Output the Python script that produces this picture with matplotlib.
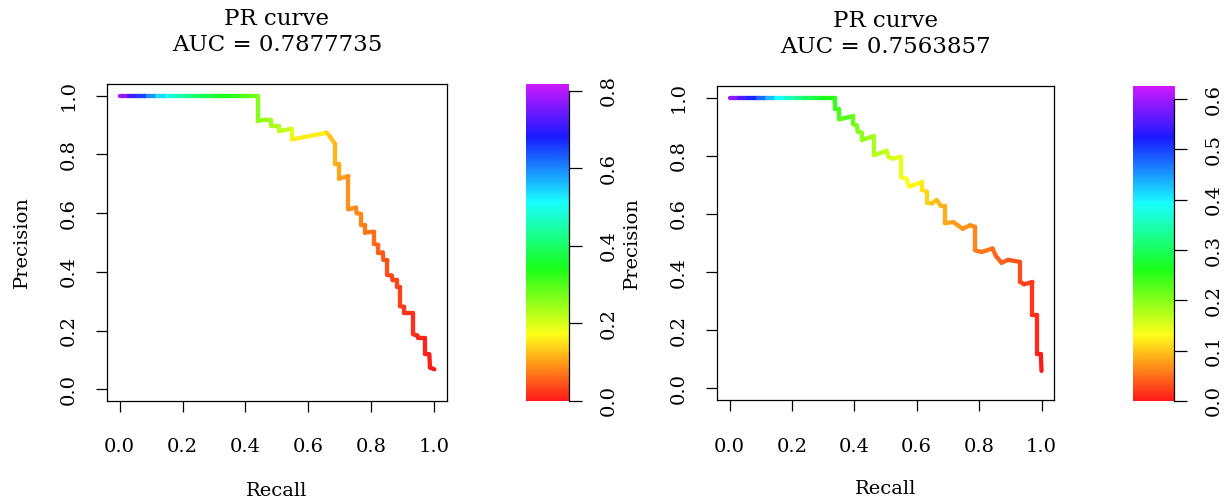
import numpy as np
import matplotlib
matplotlib.use("Agg")
import matplotlib.pyplot as plt
from matplotlib.collections import LineCollection
from matplotlib.colors import ListedColormap, Normalize, hsv_to_rgb

plt.rcParams['font.family'] = ['DejaVu Serif']

# left curve: recall, precision, threshold score at each vertex
recall_a = [0.000, 0.030, 0.060, 0.090, 0.120, 0.150, 0.180, 0.210, 0.240, 0.270,
            0.300, 0.330, 0.360, 0.390, 0.420, 0.439, 0.439, 0.462, 0.480, 0.480,
            0.507, 0.507, 0.547, 0.547, 0.658, 0.669, 0.685, 0.685, 0.698, 0.698,
            0.727, 0.727, 0.751, 0.753, 0.767, 0.767, 0.780, 0.780, 0.808, 0.808,
            0.822, 0.822, 0.836, 0.838, 0.851, 0.851, 0.865, 0.867, 0.880, 0.880,
            0.891, 0.891, 0.904, 0.904, 0.933, 0.933, 0.946, 0.949, 0.970, 0.970,
            0.984, 0.986, 1.000]
precision_a = [1.000, 1.000, 1.000, 1.000, 1.000, 1.000, 1.000, 1.000, 1.000, 1.000,
               1.000, 1.000, 1.000, 1.000, 1.000, 1.000, 0.914, 0.919, 0.919, 0.897,
               0.897, 0.879, 0.888, 0.851, 0.874, 0.860, 0.835, 0.769, 0.769, 0.718,
               0.726, 0.613, 0.619, 0.600, 0.597, 0.560, 0.558, 0.534, 0.537, 0.495,
               0.492, 0.464, 0.466, 0.441, 0.439, 0.390, 0.387, 0.371, 0.371, 0.348,
               0.348, 0.283, 0.281, 0.260, 0.260, 0.187, 0.183, 0.175, 0.175, 0.119,
               0.119, 0.074, 0.068]
score_a = [0.80, 0.75, 0.68, 0.62, 0.56, 0.51, 0.47, 0.44, 0.41, 0.38,
           0.36, 0.34, 0.33, 0.31, 0.29, 0.27, 0.26, 0.25, 0.245, 0.24,
           0.23, 0.225, 0.21, 0.175, 0.14, 0.13, 0.12, 0.115, 0.11, 0.105,
           0.095, 0.088, 0.085, 0.083, 0.081, 0.079, 0.075, 0.072, 0.065, 0.06,
           0.057, 0.054, 0.05, 0.047, 0.044, 0.041, 0.038, 0.036, 0.034, 0.032,
           0.03, 0.028, 0.025, 0.023, 0.02, 0.017, 0.015, 0.013, 0.01, 0.008,
           0.005, 0.003, 0.0]
auc_a = "0.7877735"
score_max_a = 0.818
bar_ticks_a = [0.0, 0.2, 0.4, 0.6, 0.8]

# right curve
recall_b = [0.000, 0.030, 0.060, 0.090, 0.120, 0.150, 0.180, 0.210, 0.240, 0.270,
            0.300, 0.338, 0.338, 0.352, 0.352, 0.397, 0.397, 0.408, 0.411, 0.424,
            0.424, 0.463, 0.463, 0.504, 0.509, 0.523, 0.549, 0.549, 0.566, 0.576,
            0.618, 0.618, 0.634, 0.634, 0.648, 0.664, 0.678, 0.690, 0.690, 0.717,
            0.728, 0.747, 0.771, 0.787, 0.787, 0.808, 0.843, 0.854, 0.872, 0.893,
            0.931, 0.931, 0.944, 0.971, 0.971, 0.984, 0.984, 0.998, 1.000]
precision_b = [1.000, 1.000, 1.000, 1.000, 1.000, 1.000, 1.000, 1.000, 1.000, 1.000,
               1.000, 1.000, 0.962, 0.962, 0.925, 0.937, 0.908, 0.905, 0.883, 0.880,
               0.854, 0.868, 0.802, 0.817, 0.797, 0.790, 0.797, 0.728, 0.721, 0.694,
               0.710, 0.682, 0.675, 0.639, 0.636, 0.648, 0.627, 0.627, 0.568, 0.572,
               0.564, 0.549, 0.561, 0.556, 0.475, 0.469, 0.481, 0.455, 0.432, 0.442,
               0.435, 0.367, 0.358, 0.366, 0.251, 0.251, 0.117, 0.117, 0.060]
score_b = [0.60, 0.57, 0.53, 0.50, 0.45, 0.41, 0.37, 0.34, 0.31, 0.29,
           0.27, 0.25, 0.24, 0.235, 0.23, 0.22, 0.215, 0.21, 0.205, 0.20,
           0.195, 0.185, 0.175, 0.165, 0.16, 0.155, 0.15, 0.14, 0.135, 0.13,
           0.12, 0.115, 0.11, 0.105, 0.10, 0.095, 0.09, 0.087, 0.083, 0.078,
           0.075, 0.072, 0.068, 0.065, 0.06, 0.055, 0.05, 0.046, 0.042, 0.038,
           0.033, 0.028, 0.025, 0.02, 0.015, 0.012, 0.008, 0.004, 0.0]
auc_b = "0.7563857"
score_max_b = 0.626
bar_ticks_b = [0.0, 0.1, 0.2, 0.3, 0.4, 0.5, 0.6]

axis_ticks = [0.0, 0.2, 0.4, 0.6, 0.8, 1.0]

# rainbow from red (hue 0) up to violet (hue 0.8), slightly softened
hues = np.linspace(0, 0.8, 256)
rgb = hsv_to_rgb(np.column_stack([hues, np.full(256, 0.9), np.ones(256)]))
cmap = ListedColormap(rgb)


def draw_panel(fig, rect, cbar_rect, recall, precision, score, auc, smax, bticks):
    norm = Normalize(0, smax)
    ax = fig.add_axes(rect)
    pts = np.column_stack([recall, precision])
    segs = np.stack([pts[:-1], pts[1:]], axis=1)
    s = np.asarray(score)
    lc = LineCollection(segs, cmap=cmap, norm=norm, linewidths=3.1, capstyle='round')
    lc.set_array((s[:-1] + s[1:]) / 2)
    ax.add_collection(lc)
    ax.set_xlim(-0.04, 1.04)
    ax.set_ylim(-0.04, 1.04)
    ax.set_xticks(axis_ticks)
    ax.set_yticks(axis_ticks)
    ax.set_xticklabels(["%.1f" % t for t in axis_ticks])
    ax.set_yticklabels(["%.1f" % t for t in axis_ticks], rotation=90, va='center')
    ax.tick_params(direction='out', length=8, width=0.9, labelsize=14, pad=19)
    ax.tick_params(axis='y', pad=13)
    for sp in ax.spines.values():
        sp.set_linewidth(0.9)
    ax.set_xlabel("Recall", fontsize=14, labelpad=18)
    ax.set_ylabel("Precision", fontsize=14, labelpad=21)
    ax.set_title("PR curve\nAUC = " + auc, fontsize=16.5, pad=24, linespacing=1.22)

    cax = fig.add_axes(cbar_rect)
    grad = np.linspace(0, smax, 256).reshape(-1, 1)
    cax.imshow(grad, origin='lower', extent=[0, 1, 0, smax], aspect='auto', cmap=cmap, norm=norm)
    cax.set_xlim(0, 1)
    cax.set_ylim(0, smax)
    cax.set_xticks([])
    for k in ['left', 'top', 'bottom']:
        cax.spines[k].set_visible(False)
    cax.spines['right'].set_bounds(0, bticks[-1])
    cax.spines['right'].set_linewidth(0.9)
    cax.yaxis.tick_right()
    cax.set_yticks(bticks)
    cax.set_yticklabels(["%.1f" % t for t in bticks], rotation=90, va='center')
    cax.tick_params(direction='out', length=9, width=0.9, labelsize=14, pad=13)


fig = plt.figure(figsize=(12.28, 5.0), dpi=100)
draw_panel(fig, [0.0871, 0.198, 0.2769, 0.634], [0.4283, 0.198, 0.035, 0.634],
           recall_a, precision_a, score_a, auc_a, score_max_a, bar_ticks_a)
draw_panel(fig, [0.5839, 0.200, 0.2744, 0.628], [0.9227, 0.198, 0.0334, 0.630],
           recall_b, precision_b, score_b, auc_b, score_max_b, bar_ticks_b)

fig.savefig("out.png", dpi=100)
